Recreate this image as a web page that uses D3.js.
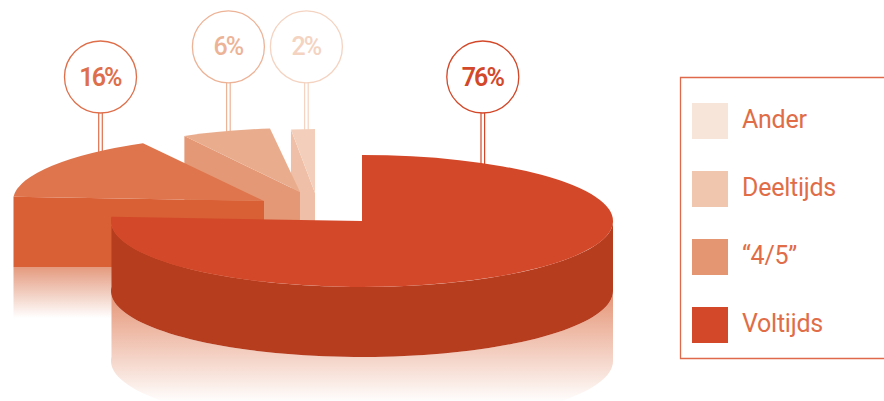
<!DOCTYPE html>
<html>
<head>
<meta charset="utf-8">
<script src="https://cdn.jsdelivr.net/npm/d3@7/dist/d3.min.js"></script>
<style>
  html, body { margin: 0; padding: 0; background: #fff; }
  svg { display: block; }
  text { font-family: Roboto, sans-serif; }
</style>
</head>
<body>
<svg id="chart" width="884" height="401"></svg>
<script>
// Employment regime shares
const categories = ["Voltijds", "\u201C4/5\u201D", "Deeltijds", "Ander"];
const shares = [76, 16, 6, 2];
const legendOrder = ["Ander", "Deeltijds", "\u201C4/5\u201D", "Voltijds"];

const topColors = ["#D34829", "#DE754D", "#E9AD8E", "#F3CFBB"];
const sideColors = ["#B73D1F", "#D95F35", "#E49875", "#EFBFA7"];
const legendColors = ["#F8E5DA", "#F0C6AF", "#E49672", "#D34829"];
const labelColors = ["#D34829", "#DE6F4A", "#EDB397", "#F4D3C1"];

// Each wedge is pulled out of the pie to its own centre
const slices = [
  { cx: 362, cy: 221, rx: 251, ry: 66, depth: 70, fade: 70, bx: 482.8, by: 77 },
  { cx: 264, cy: 201, rx: 251, ry: 66, depth: 66, fade: 51, bx: 100.5, by: 77 },
  { cx: 300, cy: 192, rx: 240, ry: 64, depth: 70, fade: 0, bx: 228.4, by: 46.8 },
  { cx: 315, cy: 193, rx: 192, ry: 64, depth: 70, fade: 0, bx: 306.4, by: 46.8 }
];
const bubbleRadius = 36;

const svg = d3.select("#chart");
const defs = svg.append("defs");

const pie = d3.pie().sort(null).value(d => d)(shares);
const unitArc = d3.arc().innerRadius(0).outerRadius(1);

const edge = (s, a) => [s.cx + s.rx * Math.sin(a), s.cy - s.ry * Math.cos(a)];

// Sampled outer rim of an elliptical wedge
function rimAngles(a0, a1) {
  const n = 80;
  return d3.range(n + 1).map(i => a0 + (a1 - a0) * i / n);
}
const rimArea = (s, offset, height) => d3.area()
  .x(a => edge(s, a)[0])
  .y0(a => edge(s, a)[1] + offset)
  .y1(a => edge(s, a)[1] + offset + height);

function fadeGradient(id, y1, y2, from) {
  const g = defs.append("linearGradient").attr("id", id)
    .attr("gradientUnits", "userSpaceOnUse")
    .attr("x1", 0).attr("x2", 0).attr("y1", y1).attr("y2", y2);
  g.append("stop").attr("offset", 0).attr("stop-color", from);
  g.append("stop").attr("offset", 1).attr("stop-color", "#fff");
}
fadeGradient("fade-main", 288, 403, "#E49070");
fadeGradient("fade-second", 267, 318, "#E49A7E");

// Pins and bubbles sit behind the wedges
slices.forEach((s, i) => {
  const g = svg.append("g");
  [-1.8, 1.8].forEach(dx => {
    g.append("line")
      .attr("x1", s.bx + dx).attr("x2", s.bx + dx)
      .attr("y1", s.by + bubbleRadius).attr("y2", s.by + bubbleRadius + 70)
      .attr("stroke", labelColors[i]).attr("stroke-width", 1.2);
  });
  g.append("circle")
    .attr("cx", s.bx).attr("cy", s.by).attr("r", bubbleRadius)
    .attr("fill", "#fff").attr("stroke", labelColors[i]).attr("stroke-width", 1.3);
  g.append("text")
    .attr("x", s.bx - 0.5).attr("y", s.by + 8.5)
    .attr("text-anchor", "middle")
    .attr("font-size", 25).attr("font-weight", i < 2 ? 600 : 500)
    .attr("letter-spacing", -1.9)
    .attr("fill", labelColors[i])
    .text(shares[i] + "%");
});

// Farthest wedge first so nearer ones overlap it
[3, 2, 1, 0].forEach(i => {
  const s = slices[i], p = pie[i];
  const g = svg.append("g").attr("class", "slice");

  if (i === 0) {
    const front = rimAngles(Math.PI / 2, p.endAngle);
    g.append("path").attr("d", rimArea(s, s.depth, s.fade)(front)).attr("fill", "url(#fade-main)");
    g.append("path").attr("d", rimArea(s, 0, s.depth)(front)).attr("fill", sideColors[i]);
  } else {
    // Cut face of the pulled-out wedge, running from its rim to the centre
    const rim = edge(s, p.startAngle);
    const floor = s.cy + s.depth;
    g.append("path")
      .attr("d", d3.line()([rim, [s.cx, s.cy], [s.cx, floor], [rim[0], floor]]) + "Z")
      .attr("fill", sideColors[i]);
    if (s.fade) {
      g.append("rect")
        .attr("x", rim[0]).attr("y", floor)
        .attr("width", s.rx).attr("height", s.fade)
        .attr("fill", "url(#fade-second)");
    }
  }
  g.append("path")
    .attr("transform", `translate(${s.cx},${s.cy}) scale(${s.rx},${s.ry})`)
    .attr("d", unitArc(p))
    .attr("fill", topColors[i]);
});

// Legend box, open towards the right edge of the page
const legend = svg.append("g");
legend.append("path")
  .attr("d", "M884.5,77.5H680.5V358.5H884.5")
  .attr("fill", "none").attr("stroke", "#DF6A4B").attr("stroke-width", 1.3);

legendOrder.forEach((name, i) => {
  const y = 103 + i * 68;
  legend.append("rect").attr("x", 692).attr("y", y).attr("width", 36).attr("height", 36)
    .attr("fill", legendColors[i]);
  legend.append("text").attr("x", 742).attr("y", y + 25)
    .attr("font-size", 25).attr("letter-spacing", -0.25)
    .attr("fill", "#E06D48").text(name);
});
</script>
</body>
</html>
